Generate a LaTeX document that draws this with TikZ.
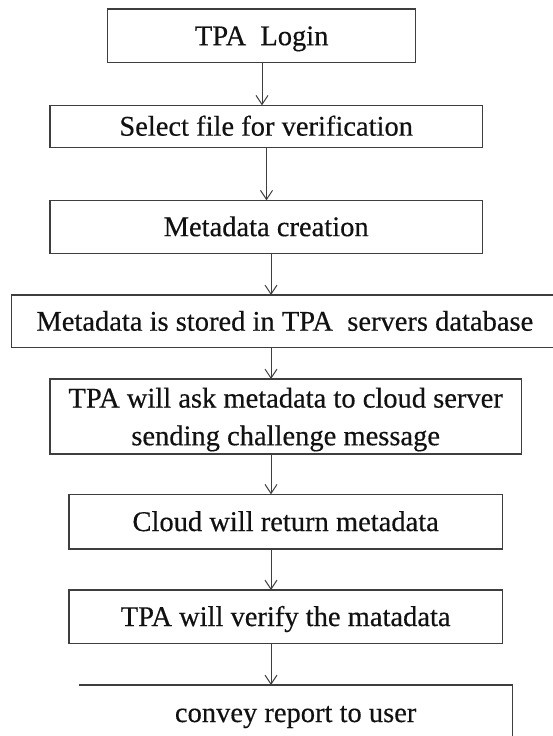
\documentclass[tikz,border=0pt]{standalone}
\usepackage{fontspec}
\setmainfont{Liberation Serif}
\newfontfamily\heavyserif{Liberation Serif}[FakeBold=0.4]
\usetikzlibrary{arrows.meta}
\definecolor{edge}{HTML}{3E3E3E}
\definecolor{ink}{HTML}{111111}
\begin{document}
\begin{tikzpicture}[x=1pt,y=-1pt,
  box/.style={draw=edge,line width=1.2pt,inner sep=0pt,outer sep=0pt,
    font=\heavyserif\fontsize{28.5}{37.7}\selectfont,text=ink},
  one/.style={text height=22.7pt,text depth=4pt},
  arr/.style={draw=edge,line width=1pt,-{Straight Barb[length=9pt,width=12pt]}}]
\useasboundingbox (0,0) rectangle (553,736);
\node[box,one,minimum width=308pt,minimum height=53.7pt] (b1) at (261.7,35.85) {TPA\ \ Login};
\node[box,one,minimum width=432.3pt,minimum height=42pt] (b2) at (266.15,126.3) {Select file for verification};
\node[box,one,minimum width=432.3pt,minimum height=53pt] (b3) at (266.15,226.8) {Metadata creation};
\node[box,one,minimum width=546.3pt,minimum height=52.7pt] (b4) at (284.85,321.35) {Metadata is stored in TPA\ \ servers database};
\node[box,align=center,minimum width=471.3pt,minimum height=75pt] (b5) at (285.65,416.5) {TPA will ask metadata to cloud server\\\smash{sending challenge message}};
\node[box,one,minimum width=433.3pt,minimum height=54.7pt] (b6) at (285.65,521.65) {Cloud will return metadata};
\node[box,one,minimum width=433.3pt,minimum height=53.3pt] (b7) at (285.65,616.65) {TPA will verify the matadata};
\node[box,one,draw=none,minimum width=433.3pt,minimum height=55.3pt] (b8) at (295.65,712.65) {convey report to user};
\draw[edge,line width=1.2pt] (b8.north west) -- (b8.north east) -- (b8.south east);
\draw[arr] (b1.south -| 262,0) -- (b2.north -| 262,0);
\draw[arr] (b2.south -| 266.5,0) -- (b3.north -| 266.5,0);
\draw[arr] (b3.south -| 271,0) -- (b4.north -| 271,0);
\draw[arr] (b4.south -| 271,0) -- (b5.north -| 271,0);
\draw[arr] (b5.south -| 271,0) -- (b6.north -| 271,0);
\draw[arr] (b6.south -| 271,0) -- (b7.north -| 271,0);
\draw[arr] (b7.south -| 271,0) -- (b8.north -| 271,0);
\end{tikzpicture}
\end{document}
